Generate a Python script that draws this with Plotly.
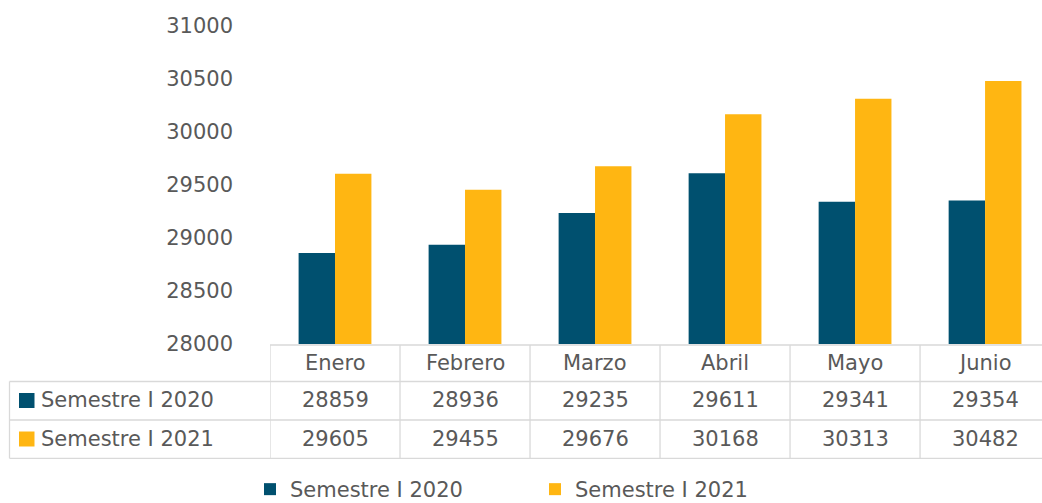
import plotly.graph_objects as go

categories = ["Enero", "Febrero", "Marzo", "Abril", "Mayo", "Junio"]
series_names = ["Semestre I 2020", "Semestre I 2021"]
values_2020 = [28859, 28936, 29235, 29611, 29341, 29354]
values_2021 = [29605, 29455, 29676, 30168, 30313, 30482]
y_ticks = [28000, 28500, 29000, 29500, 30000, 30500, 31000]

colors = ["#00506F", "#FFB612"]
text_color = "#595959"
grid_color = "#D9D9D9"
font_family = "DejaVu Sans"
fs = 21

W, H = 1042, 503
mt, mb, ml, mr = 26, 159, 270, 0
ph = H - mt - mb
pw = W - ml - mr


def py(p):
    return (H - mb - p) / ph


def px(p):
    return (p - ml) / pw


fig = go.Figure()
all_vals = [values_2020, values_2021]
for name, vals, col in zip(series_names, all_vals, colors):
    fig.add_trace(go.Bar(x=list(range(len(categories))), y=vals, name=name,
                         marker=dict(color=col, line=dict(width=0))))

shapes = []
line = dict(color=grid_color, width=1.3)
# horizontal lines of data table
shapes.append(dict(type="line", xref="paper", yref="paper", x0=0, x1=1, y0=py(345), y1=py(345), line=line))
for yy in [381.5, 420, 458.3]:
    shapes.append(dict(type="line", xref="paper", yref="paper", x0=px(9.5), x1=1, y0=py(yy), y1=py(yy), line=line))
# vertical lines
shapes.append(dict(type="line", xref="paper", yref="paper", x0=px(9.5), x1=px(9.5), y0=py(381.5), y1=py(458.3), line=line))
for k in range(len(categories)):
    shapes.append(dict(type="line", xref="x", yref="paper", x0=k - 0.5, x1=k - 0.5, y0=py(345), y1=py(458.3), line=line))
# legend keys in table
for i, yc in enumerate([400.5, 439]):
    shapes.append(dict(type="rect", xref="paper", yref="paper", x0=px(19), x1=px(34.5),
                       y0=py(yc + 7.5), y1=py(yc - 7.5), fillcolor=colors[i], line=dict(width=0)))

annotations = []
for k, c in enumerate(categories):
    annotations.append(dict(x=k, y=py(362.5), xref="x", yref="paper", text=c, showarrow=False,
                            xanchor="center", yanchor="middle", font=dict(size=fs, color=text_color, family=font_family)))
for r, (vals, yc) in enumerate(zip(all_vals, [400.5, 439])):
    for k, v in enumerate(vals):
        annotations.append(dict(x=k, y=py(yc), xref="x", yref="paper", text=str(v), showarrow=False,
                                xanchor="center", yanchor="middle", font=dict(size=fs, color=text_color, family=font_family)))
    annotations.append(dict(x=px(39), y=py(yc), xref="paper", yref="paper", text=series_names[r], showarrow=False,
                            xanchor="left", yanchor="middle", font=dict(size=fs, color=text_color, family=font_family)))

fig.update_layout(
    width=W, height=H,
    margin=dict(l=ml, r=mr, t=mt, b=mb, autoexpand=False),
    paper_bgcolor="white", plot_bgcolor="white",
    barmode="group", bargap=0.44, bargroupgap=0,
    font=dict(family=font_family, size=fs, color=text_color),
    xaxis=dict(range=[-0.5, 5.438], showticklabels=False, showgrid=False, zeroline=False,
               showline=False, ticks=""),
    yaxis=dict(range=[28000, 31000], tickvals=y_ticks, ticktext=[str(t) for t in y_ticks],
               showgrid=False, zeroline=False, showline=False, ticks="",
               ticklabelstandoff=36, tickfont=dict(size=fs, color=text_color, family=font_family)),
    showlegend=True,
    legend=dict(orientation="h", x=px(250), y=py(469), xanchor="left", yanchor="top",
                entrywidth=240, entrywidthmode="pixels", itemwidth=30,
                font=dict(size=fs, color=text_color, family=font_family), bgcolor="rgba(0,0,0,0)"),
    shapes=shapes, annotations=annotations,
)

fig.write_html("out.html", config={"displayModeBar": False},
               post_script="document.body.style.margin='0';document.body.style.overflow='hidden';")
